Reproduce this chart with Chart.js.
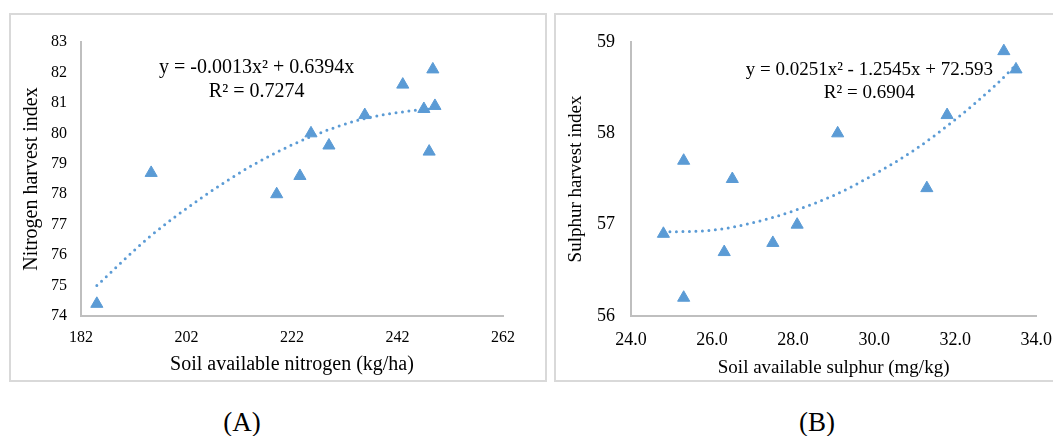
<!DOCTYPE html>
<html>
<head>
<meta charset="utf-8">
<script src="https://cdn.jsdelivr.net/npm/chart.js@4.4.1/dist/chart.umd.min.js"></script>
<style>
  body { margin: 0; background: #fff; width: 1053px; height: 436px; overflow: hidden; position: relative; font-family: "Liberation Serif", serif; }
  .box { position: absolute; top: 13px; height: 369px; border: 2px solid #d9d9d9; box-sizing: border-box; }
  #boxA { left: 9px; width: 538px; }
  #boxB { left: 554px; width: 510px; }
  canvas { position: absolute; }
  .cap { position: absolute; top: 409px; width: 100px; text-align: center; font-size: 27px; line-height: 27px; color: #000; }
</style>
</head>
<body>
<div class="box" id="boxA"></div>
<div class="box" id="boxB"></div>
<canvas id="chartA" width="538" height="369" style="left:9px;top:13px;width:538px;height:369px"></canvas>
<canvas id="chartB" width="511" height="369" style="left:554px;top:13px;width:511px;height:369px"></canvas>
<div class="cap" style="left:192px">(A)</div>
<div class="cap" style="left:767px">(B)</div>
<script>
// (A) nitrogen
const nitrogenX = [185, 195.3, 219.1, 223.5, 225.6, 229, 235.8, 243, 247, 248, 248.7, 249.1];
const nitrogenHI = [74.4, 78.7, 78.0, 78.6, 80.0, 79.6, 80.6, 81.6, 80.8, 79.4, 82.1, 80.9];
// dotted trend line
const nTrendX = [185, 195, 205, 215, 225, 235, 245, 249];
const nTrendY = [75.0, 76.6, 77.9, 79.0, 79.85, 80.45, 80.75, 80.8];
const nEquation = ['y = -0.0013x\u00B2 + 0.6394x', 'R\u00B2 = 0.7274'];

// (B) sulphur
const sulphurX = [24.8, 25.3, 25.3, 26.3, 26.5, 27.5, 28.1, 29.1, 31.3, 31.8, 33.2, 33.5];
const sulphurHI = [56.9, 56.2, 57.7, 56.7, 57.5, 56.8, 57.0, 58.0, 57.4, 58.2, 58.9, 58.7];
const sTrendX = [24.8, 26, 27, 28, 29, 30, 31, 32, 33, 33.5];
const sTrendY = [56.92, 56.94, 57.02, 57.15, 57.32, 57.55, 57.82, 58.15, 58.53, 58.75];
const sEquation = ['y = 0.0251x\u00B2 - 1.2545x + 72.593', 'R\u00B2 = 0.6904'];

const blue = '#5B9BD5';
const serif = '"Liberation Serif", "Times New Roman", serif';

function pts(xs, ys) {
    return xs.map((x, i) => ({ x: x, y: ys[i] }));
}

// writes the trend equation, anchored in data units
const equationPlugin = {
    id: 'equation',
    afterDatasetsDraw(chart, args, opts) {
        const ctx = chart.ctx;
        const xs = chart.scales.x, ys = chart.scales.y;
        ctx.save();
        ctx.font = opts.size + 'px ' + serif;
        ctx.fillStyle = '#000';
        ctx.textAlign = 'center';
        ctx.textBaseline = 'middle';
        opts.lines.forEach((t, i) => {
            ctx.fillText(t, xs.getPixelForValue(opts.x), ys.getPixelForValue(opts.y[i]));
        });
        ctx.restore();
    }
};

function makeChart(id, o) {
    return new Chart(document.getElementById(id), {
        type: 'scatter',
        data: {
            datasets: [{
                data: pts(o.x, o.y),
                pointStyle: 'triangle',
                pointRadius: 7,
                pointHoverRadius: 7,
                backgroundColor: blue,
                borderColor: blue,
                borderWidth: 1,
                order: 2
            }, {
                data: pts(o.tx, o.ty),
                showLine: true,
                pointRadius: 0,
                borderColor: blue,
                borderWidth: 3,
                borderDash: [0, 6.5],
                borderCapStyle: 'round',
                cubicInterpolationMode: 'monotone',
                order: 1
            }]
        },
        options: {
            responsive: false,
            animation: false,
            devicePixelRatio: 1,
            layout: { padding: { left: 0, top: 29, right: o.padRight, bottom: 0 } },
            plugins: {
                legend: { display: false },
                tooltip: { enabled: false },
                equation: { lines: o.eq, x: o.eqX, y: o.eqY, size: o.eqSize }
            },
            scales: {
                x: {
                    type: 'linear',
                    min: o.xMin, max: o.xMax,
                    afterFit: s => { s.height = 66; },
                    grid: { display: false, drawTicks: false },
                    border: { display: true, color: '#bfbfbf', width: 2 },
                    ticks: {
                        stepSize: o.xStep,
                        padding: o.xPad,
                        color: '#000',
                        font: { family: serif, size: o.tickSize },
                        callback: v => o.xFmt(v)
                    },
                    title: {
                        display: true,
                        text: o.xTitle,
                        color: '#000',
                        font: { family: serif, size: o.titleSize },
                        padding: { top: 0, bottom: o.xTitlePad }
                    }
                },
                y: {
                    min: o.yMin, max: o.yMax,
                    afterFit: s => { s.width = o.yWidth; },
                    grid: { display: false, drawTicks: false },
                    border: { display: true, color: '#bfbfbf', width: 2 },
                    ticks: {
                        stepSize: 1,
                        padding: o.yPad,
                        color: '#000',
                        font: { family: serif, size: o.tickSize }
                    },
                    title: {
                        display: true,
                        text: o.yTitle,
                        color: '#000',
                        font: { family: serif, size: o.titleSize },
                        padding: { top: o.yTitlePad, bottom: 0 }
                    }
                }
            }
        },
        plugins: [equationPlugin]
    });
}

makeChart('chartA', {
    x: nitrogenX, y: nitrogenHI, tx: nTrendX, ty: nTrendY,
    eq: nEquation, eqX: 215.3, eqY: [82.15, 81.36], eqSize: 20,
    xMin: 182, xMax: 262, xStep: 20, xFmt: v => String(v),
    yMin: 74, yMax: 83,
    xTitle: 'Soil available nitrogen (kg/ha)', yTitle: 'Nitrogen harvest index',
    padRight: 44, yWidth: 72, xPad: 12, yPad: 14, xTitlePad: 5, yTitlePad: 11,
    tickSize: 16, titleSize: 20
});

makeChart('chartB', {
    x: sulphurX, y: sulphurHI, tx: sTrendX, ty: sTrendY,
    eq: sEquation, eqX: 29.88, eqY: [58.69, 58.44], eqSize: 19,
    xMin: 24, xMax: 34, xStep: 2, xFmt: v => v.toFixed(1),
    yMin: 56, yMax: 59,
    xTitle: 'Soil available sulphur (mg/kg)', yTitle: 'Sulphur harvest index',
    padRight: 5, yWidth: 77, xPad: 13, yPad: 16, xTitlePad: 3, yTitlePad: 11,
    tickSize: 18, titleSize: 19
});
</script>
</body>
</html>
